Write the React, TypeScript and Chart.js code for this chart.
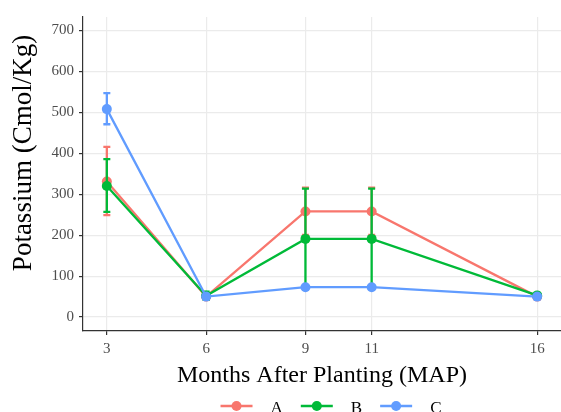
import React, { useEffect, useRef } from "react";
import { Chart, registerables } from "chart.js";

Chart.register(...registerables);

const months = [3, 6, 9, 11, 16];
const xTicks = [3, 6, 9, 11, 16];
const yTicks = [0, 100, 200, 300, 400, 500, 600, 700];
const seriesNames = ["A", "B", "C"];
const seriesColors = ["#F8766D", "#00BA38", "#619CFF"];
const yTitle = "Potassium (Cmol/Kg)";
const xTitle = "Months After Planting (MAP)";

const valuesA = [331, 50, 258, 258, 50];
const valuesB = [320, 52, 191, 191, 53];
const valuesC = [508, 50, 73, 73, 50];

const lowA = [249, 45, 201, 201, 47];
const highA = [416, 55, 316, 316, 53];
const lowB = [257, 42, 71, 71, 50];
const highB = [386, 62, 314, 314, 56];
const lowC = [471, 46, 69, 69, 47];
const highC = [547, 54, 77, 77, 53];

const allValues = [valuesA, valuesB, valuesC];
const allLows = [lowA, lowB, lowC];
const allHighs = [highA, highB, highC];

const FONT = "'Liberation Serif', 'Times New Roman', serif";

const errorBarPlugin = {
  id: "errorBars",
  afterDatasetDraw(chart: any, args: any) {
    const i = args.index;
    const ds = chart.data.datasets[i];
    const lows = ds.errLow as number[];
    const highs = ds.errHigh as number[];
    if (!lows) return;
    const xs = chart.scales.x;
    const ys = chart.scales.y;
    const ctx = chart.ctx;
    ctx.save();
    ctx.strokeStyle = ds.borderColor;
    ctx.lineWidth = 2.3;
    const cap = 3.5;
    for (let k = 0; k < months.length; k++) {
      const x = xs.getPixelForValue(months[k]);
      const y1 = ys.getPixelForValue(lows[k]);
      const y2 = ys.getPixelForValue(highs[k]);
      ctx.beginPath();
      ctx.moveTo(x, y1);
      ctx.lineTo(x, y2);
      ctx.moveTo(x - cap, y1);
      ctx.lineTo(x + cap, y1);
      ctx.moveTo(x - cap, y2);
      ctx.lineTo(x + cap, y2);
      ctx.stroke();
    }
    ctx.restore();
  },
};

const legendPlugin = {
  id: "ggLegend",
  afterDraw(chart: any) {
    const ctx = chart.ctx;
    ctx.save();
    // y axis title
    ctx.font = `27px ${FONT}`;
    ctx.fillStyle = "#000";
    ctx.textAlign = "center";
    ctx.textBaseline = "middle";
    ctx.translate(24, 153);
    ctx.rotate(-Math.PI / 2);
    ctx.fillText(yTitle, 0, 0);
    ctx.setTransform(1, 0, 0, 1, 0, 0);

    ctx.font = `17px ${FONT}`;
    const keyW = 32;
    const gapText = 18;
    const spacing = 18;
    const widths = seriesNames.map((n) => ctx.measureText(n).width);
    const total =
      widths.reduce((a, w) => a + keyW + gapText + w, 0) + spacing * (seriesNames.length - 1);
    let x = 331 - total / 2;
    const y = 406;
    seriesNames.forEach((name, i) => {
      ctx.strokeStyle = seriesColors[i];
      ctx.fillStyle = seriesColors[i];
      ctx.lineWidth = 2.5;
      ctx.beginPath();
      ctx.moveTo(x, y);
      ctx.lineTo(x + keyW, y);
      ctx.stroke();
      ctx.beginPath();
      ctx.arc(x + keyW / 2, y, 5, 0, Math.PI * 2);
      ctx.fill();
      ctx.fillStyle = "#000";
      ctx.textBaseline = "middle";
      ctx.textAlign = "left";
      ctx.fillText(name, x + keyW + gapText, y + 3);
      x += keyW + gapText + widths[i] + spacing;
    });
    ctx.restore();
  },
};

export default function App() {
  const ref = useRef<HTMLCanvasElement | null>(null);
  useEffect(() => {
    document.body.style.margin = "0";
    const canvas = ref.current;
    if (!canvas) return;
    const datasets = seriesNames.map((name, i) => ({
      label: name,
      data: months.map((m, k) => ({ x: m, y: allValues[i][k] })),
      borderColor: seriesColors[i],
      backgroundColor: seriesColors[i],
      borderWidth: 2.3,
      pointRadius: 5,
      pointBorderWidth: 0,
      pointHoverRadius: 5,
      tension: 0,
      order: 3 - i,
      errLow: allLows[i],
      errHigh: allHighs[i],
    }));
    const chart = new Chart(canvas, {
      type: "line",
      data: { datasets } as any,
      plugins: [errorBarPlugin, legendPlugin],
      options: {
        animation: false,
        responsive: false,
        devicePixelRatio: 1,
        layout: { padding: { top: 17, right: 0, bottom: 21, left: 0 } },
        plugins: {
          legend: { display: false },
          tooltip: { enabled: false },
        },
        scales: {
          x: {
            type: "linear",
            min: 2.28,
            max: 16.72,
            afterBuildTicks: (scale: any) => {
              scale.ticks = xTicks.map((v) => ({ value: v }));
            },
            afterFit: (scale: any) => {
              scale.height = 60;
            },
            grid: {
              color: "#ebebeb",
              lineWidth: 1.2,
              tickColor: "#333333",
              tickLength: 4,
            },
            border: { display: true, color: "#333333", width: 1.2 },
            ticks: {
              color: "#4d4d4d",
              font: { family: FONT, size: 15 },
              padding: 5,
              maxRotation: 0,
              autoSkip: false,
            },
            title: {
              display: true,
              text: xTitle,
              color: "#000",
              font: { family: FONT, size: 24 },
              padding: { top: 0, bottom: 1 },
            },
          },
          y: {
            type: "linear",
            min: -34,
            max: 733,
            afterBuildTicks: (scale: any) => {
              scale.ticks = yTicks.map((v) => ({ value: v }));
            },
            afterFit: (scale: any) => {
              scale.width = 83;
            },
            grid: {
              color: "#ebebeb",
              lineWidth: 1.2,
              tickColor: "#333333",
              tickLength: 4,
            },
            border: { display: true, color: "#333333", width: 1.2 },
            ticks: {
              color: "#4d4d4d",
              font: { family: FONT, size: 15 },
              padding: 5,
            },
            title: { display: false },
          },
        },
      } as any,
    });
    return () => chart.destroy();
  }, []);
  return (
    <div style={{ width: 561, height: 412, overflow: "hidden" }}>
      <canvas ref={ref} width={566} height={412} style={{ display: "block" }} />
    </div>
  );
}
